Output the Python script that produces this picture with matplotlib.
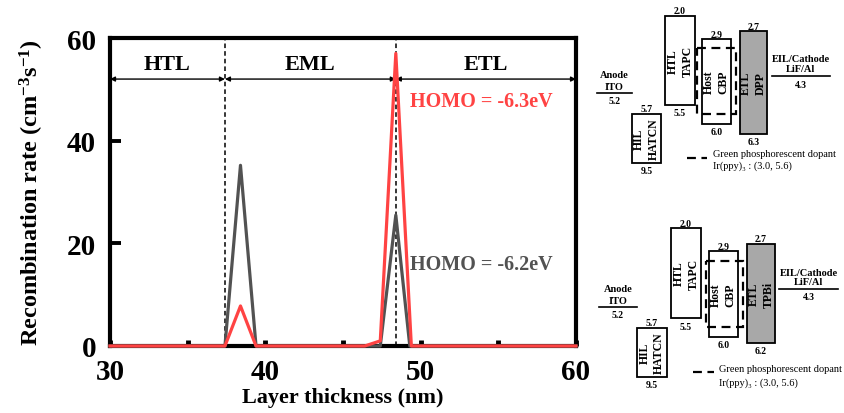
import matplotlib
matplotlib.use("Agg")
import matplotlib.pyplot as plt
from matplotlib.patches import Rectangle

plt.rcParams['font.family'] = ['Liberation Serif', 'DejaVu Serif']
plt.rcParams['mathtext.fontset'] = 'custom'
plt.rcParams['mathtext.rm'] = 'Liberation Serif:bold'
plt.rcParams['mathtext.default'] = 'rm'

# ---------------- data (main chart) ----------------
thickness_red = [30, 37.4, 38.4, 39.4, 46.4, 47.4, 48.4, 49.4, 60]
rate_red = [0, 0, 7.8, 0, 0, 1.0, 57, 0, 0]
thickness_gray = [30, 37.4, 38.4, 39.4, 47.4, 48.4, 49.3, 60]
rate_gray = [0, 0, 35.2, 0, 0, 25.5, 0, 0]
boundaries = [37.4, 48.4]
regions = ["HTL", "EML", "ETL"]
label_red = "HOMO = -6.3eV"
label_gray = "HOMO = -6.2eV"
x_ticks = [30, 40, 50, 60]
x_minor = [35, 45, 55]
y_ticks = [0, 20, 40, 60]

RED = "#ff4343"
GRAY = "#525252"

W, H = 844, 414
fig = plt.figure(figsize=(W / 100, H / 100), dpi=100)
ax = fig.add_axes([110 / W, 1 - 347 / H, (576 - 110) / W, (347 - 39) / H])

ax.plot(thickness_gray, rate_gray, color=GRAY, lw=2.3, zorder=3, clip_on=False)
ax.plot(thickness_red, rate_red, color=RED, lw=2.3, zorder=4, clip_on=False)

for b in boundaries:
    ax.axvline(b, color="black", lw=1.1, ls=(0, (3, 2)), zorder=2)

ax.set_xlim(30, 60)
ax.set_ylim(0, 60)
ax.set_xticks(x_ticks)
ax.set_xticks(x_minor, minor=True)
ax.set_yticks(y_ticks)
ax.tick_params(axis='x', which='both', direction='in', length=4.5, width=3.5,
               labelsize=21, pad=9)
ax.tick_params(axis='y', direction='in', length=8, width=2.8, labelsize=21, pad=10)
for lab in ax.get_xticklabels() + ax.get_yticklabels():
    lab.set_fontweight('bold')
for s in ax.spines.values():
    s.set_linewidth(3)

ax.set_xlabel("Layer thickness (nm)", fontsize=16, fontweight='bold', labelpad=1)
ax.set_ylabel("Recombination rate (cm$^{-3}$s$^{-1}$)", fontsize=17.5,
              fontweight='bold', labelpad=15)

# region arrows and labels
edges = [30] + boundaries + [60]
for i, name in enumerate(regions):
    x0, x1 = edges[i], edges[i + 1]
    ax.annotate("", xy=(x0, 52), xytext=(x1, 52),
                arrowprops=dict(arrowstyle="<|-|>", color="black", lw=1.0,
                                mutation_scale=7, shrinkA=0, shrinkB=0))
    ax.text((x0 + x1) / 2, 55.0, name, ha='center', va='center', fontsize=16,
            fontweight='bold')

ax.text(49.3, 47.7, label_red, color=RED, fontsize=14.5, fontweight='bold',
        ha='left', va='center')
ax.text(49.3, 16.0, label_gray, color=GRAY, fontsize=14.5, fontweight='bold',
        ha='left', va='center')

# ---------------- energy level diagrams ----------------
def diagram(origin_y, height, anode, hil, htl, host, dashed, etl, eil, legend):
    dax = fig.add_axes([590 / W, 1 - (origin_y + height) / H, 254 / W, height / H])
    dax.set_xlim(0, 254)
    dax.set_ylim(height, 0)
    dax.axis('off')
    fs_num = 7
    fs_lab = 7.5
    # anode
    x0, x1, y, a_val = anode
    dax.plot([x0, x1], [y, y], color='black', lw=1.2)
    cx = (x0 + x1) / 2
    dax.text(cx, y - 18, "Anode", ha='center', va='center', fontsize=fs_lab, fontweight='bold')
    dax.text(cx, y - 7, "ITO", ha='center', va='center', fontsize=fs_lab, fontweight='bold')
    dax.text(cx, y + 8, a_val, ha='center', va='center', fontsize=fs_num, fontweight='bold')
    # boxes
    for (bx0, bx1, by0, by1, e_top, e_bot, text, fill) in [hil, htl, host, etl]:
        dax.add_patch(Rectangle((bx0, by0), bx1 - bx0, by1 - by0,
                                facecolor=fill, edgecolor='black', lw=1.3))
        dax.text((bx0 + bx1) / 2, by0 - 5, e_top, ha='center', va='center',
                 fontsize=fs_num, fontweight='bold')
        dax.text((bx0 + bx1) / 2, by1 + 8, e_bot, ha='center', va='center',
                 fontsize=fs_num, fontweight='bold')
        dax.text((bx0 + bx1) / 2, (by0 + by1) / 2, text, ha='center', va='center',
                 rotation=90, fontsize=8.5, fontweight='bold', linespacing=1.3,
                 multialignment='center')
    # dashed dopant box
    dx0, dx1, dy0, dy1 = dashed
    dax.add_patch(Rectangle((dx0, dy0), dx1 - dx0, dy1 - dy0, facecolor='none',
                            edgecolor='black', lw=1.6, ls=(0, (4, 2.5))))
    # EIL
    ex0, ex1, ey, e_val = eil
    ecx = (ex0 + ex1) / 2
    dax.plot([ex0, ex1], [ey, ey], color='black', lw=1.2)
    dax.text(ecx, ey - 17, "EIL/Cathode", ha='center', va='center', fontsize=fs_lab, fontweight='bold')
    dax.text(ecx, ey - 7.5, "LiF/Al", ha='center', va='center', fontsize=fs_lab, fontweight='bold')
    dax.text(ecx, ey + 8, e_val, ha='center', va='center', fontsize=fs_num, fontweight='bold')
    # legend
    lx0, lx1, ly, tx, ty1, ty2 = legend
    dax.plot([lx0, lx1], [ly, ly], color='black', lw=1.6, ls=(0, (4, 2.5)))
    dax.text(tx, ty1, "Green phosphorescent dopant", ha='left', va='center', fontsize=7.5)
    dax.text(tx, ty2, "Ir(ppy)\u2083 : (3.0, 5.6)", ha='left', va='center', fontsize=7.5)

GFILL = "#a8a8a8"
# top diagram (DPP)
diagram(0, 200,
        anode=(7, 42, 94, "5.2"),
        hil=(42, 71, 115, 164, "5.7", "9.5", "HIL\nHATCN", 'white'),
        htl=(75, 105, 17, 106, "2.0", "5.5", "HTL\nTAPC", 'white'),
        host=(112, 141, 40, 125, "2.9", "6.0", "Host\nCBP", 'white'),
        dashed=(107, 146, 49, 115),
        etl=(150, 177, 32, 135, "2.7", "6.3", "ETL\nDPP", GFILL),
        eil=(182, 240, 77, "4.3"),
        legend=(97, 117, 159, 123, 155, 166))
# bottom diagram (TPBi)
diagram(200, 214,
        anode=(9, 47, 108, "5.2"),
        hil=(47, 77, 129, 178, "5.7", "9.5", "HIL\nHATCN", 'white'),
        htl=(81, 111, 29, 119, "2.0", "5.5", "HTL\nTAPC", 'white'),
        host=(119, 148, 52, 138, "2.9", "6.0", "Host\nCBP", 'white'),
        dashed=(116, 153, 62, 128),
        etl=(157, 185, 45, 144, "2.7", "6.2", "ETL\nTPBi", GFILL),
        eil=(189, 248, 90, "4.3"),
        legend=(103, 124, 173, 129, 170, 183))

fig.savefig("out.png", dpi=100)
